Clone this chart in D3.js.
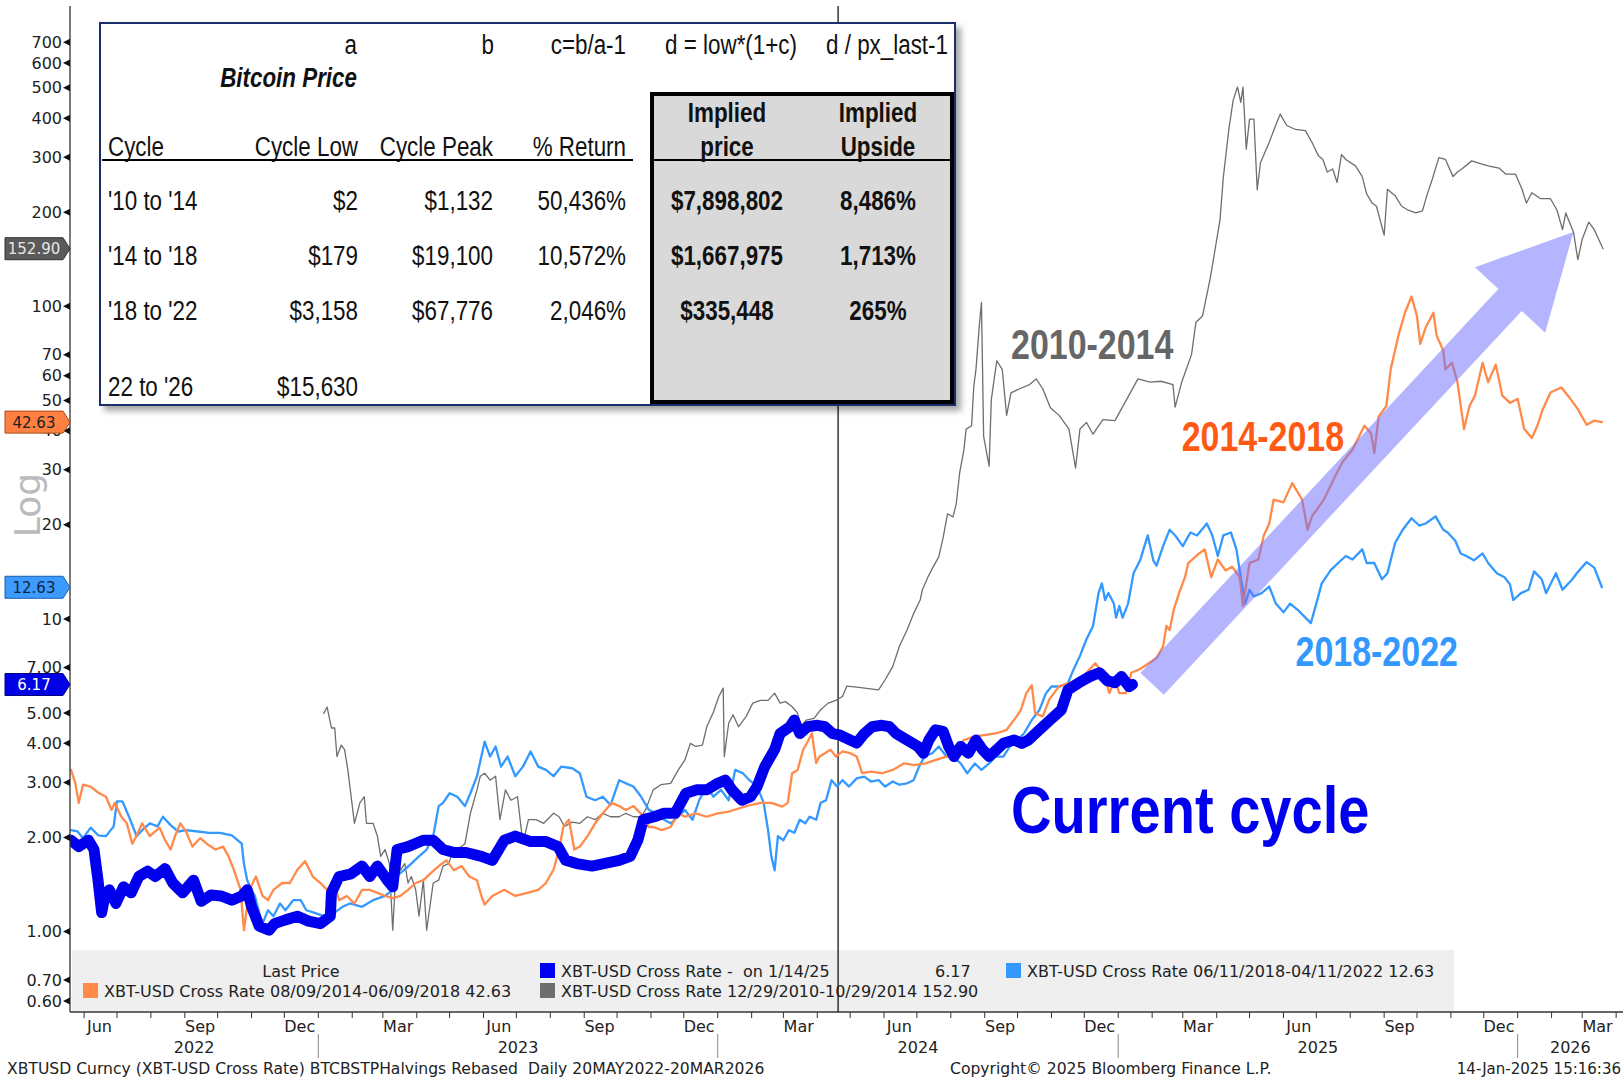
<!DOCTYPE html>
<html>
<head>
<meta charset="utf-8">
<script src="https://cdn.jsdelivr.net/npm/d3@7"></script>
<style>
  body { margin: 0; background: #fff; }
  svg { display: block; }
  .ax { font-family: "DejaVu Sans", Tahoma, Verdana, sans-serif; fill: #222; }
  .tb { font-family: "Liberation Sans", Arial, sans-serif; fill: #111; }
</style>
</head>
<body>
<svg id="chart" width="1623" height="1079"></svg>
<script>
// ---- data (rebased price, halving-aligned) ----
const current = [["2022-05-20",1.96],["2022-05-27",1.87],["2022-06-05",1.96],["2022-06-10",1.83],["2022-06-14",1.43],["2022-06-17",1.15],["2022-06-20",1.30],["2022-06-24",1.36],["2022-06-30",1.23],["2022-07-07",1.39],["2022-07-14",1.33],["2022-07-21",1.50],["2022-07-29",1.56],["2022-08-05",1.50],["2022-08-14",1.59],["2022-08-21",1.43],["2022-08-30",1.33],["2022-09-09",1.46],["2022-09-16",1.25],["2022-09-25",1.31],["2022-10-04",1.30],["2022-10-14",1.26],["2022-10-23",1.30],["2022-10-28",1.36],["2022-11-01",1.20],["2022-11-08",1.04],["2022-11-17",1.01],["2022-11-22",1.06],["2022-12-02",1.09],["2022-12-13",1.12],["2022-12-23",1.08],["2023-01-03",1.06],["2023-01-12",1.12],["2023-01-13",1.33],["2023-01-20",1.50],["2023-01-31",1.53],["2023-02-10",1.62],["2023-02-17",1.50],["2023-02-24",1.62],["2023-03-05",1.46],["2023-03-10",1.39],["2023-03-14",1.83],["2023-03-24",1.87],["2023-04-07",1.96],["2023-04-16",1.96],["2023-04-25",1.83],["2023-05-05",1.79],["2023-05-16",1.79],["2023-05-30",1.74],["2023-06-09",1.69],["2023-06-20",1.96],["2023-06-30",2.02],["2023-07-14",1.94],["2023-07-28",1.94],["2023-08-08",1.87],["2023-08-15",1.69],["2023-08-25",1.65],["2023-09-08",1.62],["2023-09-19",1.65],["2023-10-03",1.69],["2023-10-13",1.74],["2023-10-20",1.96],["2023-10-25",2.28],["2023-11-04",2.33],["2023-11-13",2.39],["2023-11-23",2.39],["2023-12-03",2.77],["2023-12-13",2.84],["2023-12-22",2.84],["2024-01-01",2.98],["2024-01-08",3.05],["2024-01-14",2.84],["2024-01-23",2.63],["2024-01-31",2.70],["2024-02-06",2.91],["2024-02-13",3.37],["2024-02-22",3.82],["2024-02-27",4.30],["2024-03-07",4.52],["2024-03-11",4.75],["2024-03-16",4.30],["2024-03-23",4.52],["2024-04-01",4.57],["2024-04-08",4.52],["2024-04-15",4.30],["2024-04-21",4.26],["2024-05-01",4.10],["2024-05-07",4.01],["2024-05-14",4.30],["2024-05-21",4.52],["2024-05-30",4.57],["2024-06-06",4.52],["2024-06-12",4.30],["2024-06-22",4.10],["2024-07-02",3.91],["2024-07-07",3.72],["2024-07-12",4.10],["2024-07-18",4.42],["2024-07-25",4.37],["2024-07-30",3.91],["2024-08-04",3.63],["2024-08-10",3.91],["2024-08-17",3.72],["2024-08-24",4.10],["2024-08-30",3.82],["2024-09-05",3.63],["2024-09-12",3.82],["2024-09-18",4.00],["2024-09-28",4.10],["2024-10-05",4.00],["2024-10-11",4.10],["2024-10-21",4.42],["2024-10-31",4.76],["2024-11-10",5.12],["2024-11-16",5.93],["2024-11-26",6.25],["2024-12-06",6.54],["2024-12-15",6.73],["2024-12-22",6.35],["2024-12-29",6.25],["2025-01-04",6.54],["2025-01-11",6.07],["2025-01-14",6.17]];

const cycle1014 = [["2023-01-06",4.99],["2023-01-09",5.23],["2023-01-13",4.48],["2023-01-16",4.48],["2023-01-18",3.63],["2023-01-22",3.95],["2023-01-25",3.82],["2023-01-28",3.29],["2023-02-03",2.22],["2023-02-08",2.58],["2023-02-12",2.70],["2023-02-14",2.22],["2023-02-20",2.22],["2023-02-24",2.02],["2023-02-27",1.74],["2023-03-03",1.83],["2023-03-07",1.65],["2023-03-10",1.01],["2023-03-14",1.83],["2023-03-17",1.57],["2023-03-21",1.65],["2023-03-24",1.43],["2023-03-27",1.50],["2023-03-31",1.36],["2023-04-03",1.12],["2023-04-07",1.46],["2023-04-10",1.01],["2023-04-16",1.43],["2023-04-21",1.46],["2023-04-25",1.62],["2023-04-30",1.65],["2023-05-05",1.83],["2023-05-12",1.87],["2023-05-15",1.91],["2023-05-20",2.39],["2023-05-26",2.84],["2023-05-29",3.14],["2023-06-02",3.21],["2023-06-07",3.05],["2023-06-12",3.14],["2023-06-16",2.28],["2023-06-21",2.84],["2023-06-26",2.63],["2023-07-02",2.70],["2023-07-07",1.91],["2023-07-12",2.28],["2023-07-19",2.28],["2023-07-26",2.22],["2023-08-04",2.39],["2023-08-09",2.33],["2023-08-14",2.17],["2023-08-21",2.24],["2023-08-28",2.22],["2023-09-04",2.33],["2023-09-11",2.28],["2023-09-18",2.39],["2023-09-25",2.33],["2023-10-03",2.33],["2023-10-09",2.39],["2023-10-16",2.33],["2023-10-23",2.33],["2023-10-27",2.45],["2023-11-03",2.84],["2023-11-10",2.95],["2023-11-19",2.98],["2023-11-26",3.29],["2023-12-02",3.54],["2023-12-07",4.00],["2023-12-12",3.91],["2023-12-18",3.95],["2023-12-22",4.52],["2023-12-28",5.03],["2024-01-02",5.65],["2024-01-06",6.01],["2024-01-07",3.63],["2024-01-11",4.64],["2024-01-15",4.94],["2024-01-20",4.52],["2024-01-27",4.88],["2024-02-02",5.38],["2024-02-09",5.49],["2024-02-16",5.49],["2024-02-22",5.79],["2024-02-27",5.38],["2024-03-03",5.44],["2024-03-09",5.24],["2024-03-14",5.00],["2024-03-17",4.52],["2024-03-22",4.75],["2024-03-29",4.81],["2024-04-04",5.12],["2024-04-11",5.38],["2024-04-18",5.49],["2024-04-24",5.65],["2024-04-28",6.10],["2024-05-07",6.05],["2024-05-27",5.93],["2024-06-02",6.39],["2024-06-09",7.05],["2024-06-15",8.18],["2024-06-22",9.22],["2024-06-28",10.4],["2024-07-04",11.5],["2024-07-06",12.4],["2024-07-11",13.6],["2024-07-16",14.7],["2024-07-21",15.8],["2024-07-25",18.2],["2024-07-29",21.7],["2024-08-03",21.2],["2024-08-06",23.4],["2024-08-09",29.2],["2024-08-13",34.8],["2024-08-15",40.5],["2024-08-20",41.5],["2024-08-22",55.4],["2024-08-24",62.9],["2024-08-27",86.3],["2024-08-29",103],["2024-08-31",38.4],["2024-09-05",30.8],["2024-09-07",50.2],["2024-09-12",67.0],["2024-09-17",62.9],["2024-09-21",44.8],["2024-09-25",52.9],["2024-10-03",54.5],["2024-10-12",56.2],["2024-10-18",58.6],["2024-10-24",54.5],["2024-10-31",47.4],["2024-11-08",44.8],["2024-11-17",40.5],["2024-11-23",30.4],["2024-11-27",40.5],["2024-12-03",42.5],["2024-12-09",39.0],["2024-12-18",43.4],["2024-12-29",43.1],["2025-01-09",50.6],["2025-01-19",58.6],["2025-01-30",57.2],["2025-02-09",57.6],["2025-02-20",56.2],["2025-02-22",47.6],["2025-02-28",57.2],["2025-03-09",70.2],["2025-03-13",89.0],["2025-03-19",93.1],["2025-03-26",122.6],["2025-03-30",148.4],["2025-04-04",189],["2025-04-07",258],["2025-04-12",366],["2025-04-16",456],["2025-04-20",503],["2025-04-23",449],["2025-04-25",503],["2025-04-28",318],["2025-05-01",397],["2025-05-05",397],["2025-05-08",236],["2025-05-11",288],["2025-05-19",335],["2025-05-26",388],["2025-05-29",412],["2025-06-04",379],["2025-06-12",368],["2025-06-21",365],["2025-06-27",335],["2025-07-03",303],["2025-07-07",295],["2025-07-11",269],["2025-07-16",275],["2025-07-20",249],["2025-07-24",306],["2025-07-28",295],["2025-08-06",281],["2025-08-12",260],["2025-08-16",229],["2025-08-21",214],["2025-08-25",209],["2025-09-01",169],["2025-09-04",237],["2025-09-11",226],["2025-09-17",209],["2025-09-23",203],["2025-09-30",199],["2025-10-06",202],["2025-10-10",226],["2025-10-15",255],["2025-10-21",299],["2025-10-27",295],["2025-11-03",260],["2025-11-07",269],["2025-11-11",275],["2025-11-20",292],["2025-11-28",286],["2025-12-06",281],["2025-12-15",277],["2025-12-21",265],["2025-12-30",265],["2026-01-05",237],["2026-01-09",214],["2026-01-14",231],["2026-01-22",221],["2026-01-31",221],["2026-02-06",203],["2026-02-11",176],["2026-02-14",199],["2026-02-21",173],["2026-02-25",141],["2026-03-01",164],["2026-03-07",186],["2026-03-12",176],["2026-03-16",164],["2026-03-20",152.9]];

const cycle1418 = [["2022-05-20",3.29],["2022-05-24",2.98],["2022-05-27",2.58],["2022-05-31",2.95],["2022-06-07",2.91],["2022-06-14",2.78],["2022-06-21",2.70],["2022-06-26",2.45],["2022-06-29",2.58],["2022-07-05",2.33],["2022-07-10",2.22],["2022-07-15",1.91],["2022-07-19",2.03],["2022-07-24",2.22],["2022-07-31",2.02],["2022-08-09",2.15],["2022-08-14",1.96],["2022-08-19",1.83],["2022-08-23",2.02],["2022-08-28",2.22],["2022-09-02",2.09],["2022-09-08",1.87],["2022-09-15",1.99],["2022-09-21",1.91],["2022-09-29",1.83],["2022-10-06",1.87],["2022-10-11",1.74],["2022-10-16",1.57],["2022-10-22",1.36],["2022-10-25",1.01],["2022-10-30",1.36],["2022-11-05",1.50],["2022-11-11",1.30],["2022-11-16",1.26],["2022-11-21",1.36],["2022-11-29",1.43],["2022-12-06",1.43],["2022-12-13",1.58],["2022-12-20",1.68],["2022-12-27",1.50],["2023-01-03",1.43],["2023-01-09",1.36],["2023-01-15",1.46],["2023-01-20",1.26],["2023-01-27",1.30],["2023-02-03",1.23],["2023-02-10",1.36],["2023-02-17",1.36],["2023-02-24",1.33],["2023-03-03",1.30],["2023-03-10",1.28],["2023-03-17",1.30],["2023-03-24",1.36],["2023-03-31",1.43],["2023-04-07",1.46],["2023-04-14",1.54],["2023-04-21",1.62],["2023-04-28",1.69],["2023-05-05",1.57],["2023-05-12",1.62],["2023-05-19",1.50],["2023-05-26",1.46],["2023-05-30",1.30],["2023-06-02",1.22],["2023-06-09",1.30],["2023-06-20",1.36],["2023-06-30",1.30],["2023-07-11",1.33],["2023-07-21",1.36],["2023-07-28",1.43],["2023-08-04",1.58],["2023-08-09",1.83],["2023-08-13",2.17],["2023-08-18",2.28],["2023-08-23",1.83],["2023-08-28",1.87],["2023-09-04",2.02],["2023-09-11",2.22],["2023-09-18",2.39],["2023-09-26",2.58],["2023-10-03",2.52],["2023-10-09",2.45],["2023-10-16",2.52],["2023-10-23",2.38],["2023-10-30",2.16],["2023-11-03",2.16],["2023-11-11",2.11],["2023-11-19",2.16],["2023-11-26",2.39],["2023-12-02",2.33],["2023-12-12",2.39],["2023-12-22",2.33],["2024-01-01",2.39],["2024-01-11",2.42],["2024-01-21",2.48],["2024-01-31",2.54],["2024-02-09",2.58],["2024-02-19",2.58],["2024-02-29",2.51],["2024-03-05",2.58],["2024-03-09",3.21],["2024-03-14",3.29],["2024-03-19",3.81],["2024-03-24",4.10],["2024-03-27",4.31],["2024-03-31",3.46],["2024-04-03",3.63],["2024-04-08",3.72],["2024-04-13",3.82],["2024-04-18",3.63],["2024-04-24",3.77],["2024-05-01",3.72],["2024-05-07",3.63],["2024-05-12",3.21],["2024-05-20",3.25],["2024-05-30",3.21],["2024-06-09",3.29],["2024-06-19",3.45],["2024-06-29",3.41],["2024-07-09",3.45],["2024-07-19",3.55],["2024-07-28",3.63],["2024-08-07",3.91],["2024-08-13",4.10],["2024-08-23",4.21],["2024-09-02",4.26],["2024-09-12",4.31],["2024-09-21",4.42],["2024-09-30",4.87],["2024-10-04",5.12],["2024-10-09",5.79],["2024-10-14",6.14],["2024-10-17",5.00],["2024-10-24",4.88],["2024-10-30",5.53],["2024-11-08",6.10],["2024-11-18",6.25],["2024-11-30",6.54],["2024-12-11",7.22],["2024-12-18",6.73],["2024-12-24",5.79],["2024-12-29",6.39],["2025-01-02",5.79],["2025-01-08",5.79],["2025-01-13",6.73],["2025-01-21",6.92],["2025-01-29",7.22],["2025-02-05",7.50],["2025-02-11",8.16],["2025-02-14",9.50],["2025-02-17",9.22],["2025-02-21",10.8],["2025-02-26",12.2],["2025-03-03",13.6],["2025-03-06",15.1],["2025-03-16",16.2],["2025-03-21",16.7],["2025-03-27",13.6],["2025-04-02",15.5],["2025-04-09",14.3],["2025-04-15",14.7],["2025-04-22",13.6],["2025-04-25",11.0],["2025-05-01",15.1],["2025-05-09",15.5],["2025-05-14",18.5],["2025-05-19",20.2],["2025-05-23",24.1],["2025-06-01",23.6],["2025-06-09",27.2],["2025-06-18",24.1],["2025-06-23",19.3],["2025-06-27",21.3],["2025-07-08",24.1],["2025-07-18",28.5],["2025-07-25",31.8],["2025-08-03",34.8],["2025-08-14",41.5],["2025-08-20",39.3],["2025-08-23",34.0],["2025-08-27",44.4],["2025-09-03",48.0],["2025-09-07",62.9],["2025-09-14",80.6],["2025-09-20",95.4],["2025-09-26",107.5],["2025-10-01",93.1],["2025-10-04",75.8],["2025-10-09",85.6],["2025-10-16",95.4],["2025-10-19",80.6],["2025-10-25",72.2],["2025-10-27",62.9],["2025-11-02",66.0],["2025-11-07",57.2],["2025-11-13",40.5],["2025-11-18",48.0],["2025-11-23",51.8],["2025-11-30",66.0],["2025-12-05",57.2],["2025-12-12",65.1],["2025-12-18",51.8],["2025-12-25",49.1],["2026-01-01",50.6],["2026-01-07",40.5],["2026-01-14",37.9],["2026-01-19",41.5],["2026-01-24",46.9],["2026-01-31",53.0],["2026-02-10",55.0],["2026-02-16",51.8],["2026-02-25",46.9],["2026-03-05",41.8],["2026-03-12",43.1],["2026-03-19",42.63]];

const cycle1822 = [["2022-05-20",2.11],["2022-05-26",2.09],["2022-05-31",1.99],["2022-06-07",2.15],["2022-06-14",2.03],["2022-06-21",2.02],["2022-06-28",2.17],["2022-07-01",2.61],["2022-07-06",2.61],["2022-07-12",2.33],["2022-07-19",2.02],["2022-07-24",2.11],["2022-07-31",2.22],["2022-08-07",2.17],["2022-08-12",2.33],["2022-08-19",2.19],["2022-08-26",2.09],["2022-09-02",2.11],["2022-09-13",2.09],["2022-09-23",2.07],["2022-10-03",2.07],["2022-10-14",2.03],["2022-10-23",1.91],["2022-10-25",1.65],["2022-10-28",1.46],["2022-11-01",1.36],["2022-11-04",1.30],["2022-11-08",1.15],["2022-11-11",1.06],["2022-11-16",1.17],["2022-11-21",1.12],["2022-11-27",1.23],["2022-12-02",1.17],["2022-12-09",1.26],["2022-12-16",1.26],["2022-12-21",1.17],["2022-12-28",1.15],["2023-01-06",1.12],["2023-01-11",1.09],["2023-01-16",1.15],["2023-01-23",1.20],["2023-01-30",1.23],["2023-02-10",1.20],["2023-02-20",1.26],["2023-03-03",1.30],["2023-03-10",1.36],["2023-03-13",1.50],["2023-03-20",1.57],["2023-03-27",1.65],["2023-04-03",1.74],["2023-04-10",1.83],["2023-04-16",2.02],["2023-04-21",2.52],["2023-04-25",2.58],["2023-05-01",2.77],["2023-05-08",2.70],["2023-05-15",2.52],["2023-05-20",2.77],["2023-05-26",3.14],["2023-06-02",4.05],["2023-06-07",3.63],["2023-06-12",3.91],["2023-06-17",3.37],["2023-06-23",3.63],["2023-06-30",3.14],["2023-07-07",3.37],["2023-07-14",3.77],["2023-07-21",3.37],["2023-07-28",3.29],["2023-08-04",3.14],["2023-08-11",3.37],["2023-08-21",3.33],["2023-08-28",3.21],["2023-09-03",2.70],["2023-09-11",2.63],["2023-09-18",2.70],["2023-09-25",2.54],["2023-10-03",3.05],["2023-10-09",2.98],["2023-10-16",2.91],["2023-10-23",2.70],["2023-10-30",2.45],["2023-11-06",2.39],["2023-11-13",2.28],["2023-11-19",2.22],["2023-11-26",2.33],["2023-12-02",2.45],["2023-12-09",2.28],["2023-12-15",2.63],["2023-12-22",2.91],["2023-12-28",2.70],["2024-01-04",2.84],["2024-01-11",2.63],["2024-01-17",3.29],["2024-01-24",3.21],["2024-01-30",3.05],["2024-02-06",2.91],["2024-02-12",2.58],["2024-02-16",2.11],["2024-02-19",1.74],["2024-02-22",1.57],["2024-02-25",2.02],["2024-03-01",1.96],["2024-03-06",2.11],["2024-03-11",2.07],["2024-03-16",2.28],["2024-03-21",2.22],["2024-03-25",2.33],["2024-03-31",2.28],["2024-04-04",2.58],["2024-04-09",2.63],["2024-04-14",3.05],["2024-04-19",2.91],["2024-04-24",3.05],["2024-04-30",2.91],["2024-05-07",3.09],["2024-05-14",3.13],["2024-05-20",3.02],["2024-05-27",3.05],["2024-06-02",2.91],["2024-06-09",3.02],["2024-06-15",2.95],["2024-06-22",2.98],["2024-06-28",3.05],["2024-07-03",3.37],["2024-07-08",3.63],["2024-07-15",3.72],["2024-07-21",3.91],["2024-07-28",3.63],["2024-08-03",3.63],["2024-08-10",3.45],["2024-08-16",3.21],["2024-08-23",3.45],["2024-08-29",3.29],["2024-09-05",3.45],["2024-09-11",3.63],["2024-09-18",3.63],["2024-09-24",3.91],["2024-10-01",4.10],["2024-10-07",4.31],["2024-10-14",4.75],["2024-10-21",5.12],["2024-10-27",5.79],["2024-11-01",6.08],["2024-11-09",6.08],["2024-11-16",6.23],["2024-11-21",6.87],["2024-11-27",7.62],["2024-12-03",8.61],["2024-12-09",9.50],["2024-12-14",12.1],["2024-12-17",13.0],["2024-12-20",11.5],["2024-12-23",12.1],["2024-12-28",11.2],["2024-12-30",10.1],["2025-01-02",11.0],["2025-01-05",10.1],["2025-01-10",11.2],["2025-01-15",14.0],["2025-01-21",15.4],["2025-01-28",18.5],["2025-02-02",15.4],["2025-02-05",14.8],["2025-02-11",17.1],["2025-02-17",19.3],["2025-02-22",18.5],["2025-03-01",17.1],["2025-03-08",18.9],["2025-03-14",18.5],["2025-03-23",20.2],["2025-03-28",18.5],["2025-04-02",15.9],["2025-04-07",18.5],["2025-04-14",18.9],["2025-04-19",16.7],["2025-04-22",14.3],["2025-04-27",11.2],["2025-05-01",12.4],["2025-05-05",11.8],["2025-05-12",12.1],["2025-05-19",12.7],["2025-05-25",11.2],["2025-06-01",10.5],["2025-06-07",11.2],["2025-06-14",10.7],["2025-06-21",10.1],["2025-06-26",9.7],["2025-07-01",11.2],["2025-07-06",13.0],["2025-07-14",14.3],["2025-07-21",15.1],["2025-07-28",15.9],["2025-08-03",15.5],["2025-08-12",16.7],["2025-08-16",15.1],["2025-08-23",15.1],["2025-08-30",13.4],["2025-09-04",14.0],["2025-09-11",17.5],["2025-09-18",19.3],["2025-09-26",21.0],["2025-10-03",19.9],["2025-10-09",20.2],["2025-10-18",21.3],["2025-10-25",19.3],["2025-10-29",18.9],["2025-11-05",17.8],["2025-11-10",16.2],["2025-11-15",15.9],["2025-11-22",15.4],["2025-11-30",16.2],["2025-12-05",15.1],["2025-12-13",14.0],["2025-12-20",13.6],["2025-12-25",12.9],["2025-12-28",11.5],["2026-01-04",12.1],["2026-01-11",12.4],["2026-01-16",14.2],["2026-01-23",13.4],["2026-01-27",12.1],["2026-02-05",14.0],["2026-02-11",12.4],["2026-02-20",13.4],["2026-02-24",14.0],["2026-03-05",15.2],["2026-03-12",14.6],["2026-03-19",12.63]];

const yTicks = [0.6, 0.7, 1, 2, 3, 4, 5, 7, 10, 20, 30, 40, 50, 60, 70, 100, 200, 300, 400, 500, 600, 700];
const lastValues = [152.90, 42.63, 12.63, 6.17];
const legendLabels = ["XBT-USD Cross Rate 08/09/2014-06/09/2018 42.63", "XBT-USD Cross Rate -\u00a0 on 1/14/25", "XBT-USD Cross Rate 12/29/2010-10/29/2014 152.90", "XBT-USD Cross Rate 06/11/2018-04/11/2022 12.63"];

const formulaRow = ["a", "b", "c=b/a-1", "d = low*(1+c)", "d / px_last-1"];
const tableHeads = ["Cycle", "Cycle Low", "Cycle Peak", "% Return"];
const cycles = ["'10 to '14", "'14 to '18", "'18 to '22", "22 to '26"];
const cycleLows = ["$2", "$179", "$3,158", "$15,630"];
const cyclePeaks = ["$1,132", "$19,100", "$67,776", ""];
const cycleReturns = ["50,436%", "10,572%", "2,046%", ""];
const impliedPrices = ["$7,898,802", "$1,667,975", "$335,448", ""];
const impliedUpside = ["8,486%", "1,713%", "265%", ""];

// ---- scales ----
const parse = d3.timeParse("%Y-%m-%d");
const x = d3.scaleTime().domain([parse("2022-05-20"), parse("2026-03-20")]).range([71, 1603]);
const y = d3.scaleLog().domain([0.553, 955]).range([1012, 0]);
const axisY = 1012, axisX = 70, rightEdge = 1623;

const svg = d3.select("#chart");
const defs = svg.append("defs");
defs.append("clipPath").attr("id", "plot")
  .append("rect").attr("x", axisX).attr("y", 0).attr("width", rightEdge - axisX).attr("height", axisY);

// condensed text helper (narrow face via horizontal scaling)
function ntext(g, t, xx, yy, anchor, size, sx, extra) {
  const el = g.append("text")
    .attr("transform", `translate(${xx},${yy}) scale(${sx},1)`)
    .attr("text-anchor", anchor).attr("dy", "0.35em")
    .style("font-size", size + "px").text(t);
  if (extra) Object.entries(extra).forEach(([k, v]) => el.style(k, v));
  return el;
}

// legend background (behind lines)
svg.append("rect").attr("x", 72).attr("y", 950).attr("width", 1382).attr("height", 61).attr("fill", "#efefef");

// halving marker
const halving = x(parse("2024-04-20"));
svg.append("line").attr("x1", halving).attr("x2", halving).attr("y1", 6).attr("y2", axisY)
  .attr("stroke", "#000").attr("stroke-width", 1.2);

// ---- lines ----
const line = d3.line().x(d => x(parse(d[0]))).y(d => y(d[1]));
const series = [
  { data: cycle1014, color: "#6e6e6e", width: 1.3 },
  { data: cycle1822, color: "#3399ff", width: 2.3 },
  { data: cycle1418, color: "#ff8a4a", width: 2.3 },
  { data: current, color: "#0000ee", width: 11 }
];
const gLines = svg.append("g").attr("clip-path", "url(#plot)");
series.forEach(s => {
  gLines.append("path").datum(s.data).attr("d", line)
    .attr("fill", "none").attr("stroke", s.color).attr("stroke-width", s.width)
    .attr("stroke-linejoin", "round").attr("stroke-linecap", "round");
});

// ---- arrow (data anchored) ----
const p0 = [x(parse("2025-02-01")), y(6.2)];
const p1 = [x(parse("2026-02-21")), y(173)];
const len = Math.hypot(p1[0] - p0[0], p1[1] - p0[1]);
const u = [(p1[0] - p0[0]) / len, (p1[1] - p0[1]) / len];
const n = [-u[1], u[0]];
const sh = 16, hh = 48, hl = 93;
const b = [p1[0] - u[0] * hl, p1[1] - u[1] * hl];
const pt = (p, k) => [p[0] + n[0] * k, p[1] + n[1] * k];
svg.append("polygon")
  .attr("points", [pt(p0, sh), pt(b, sh), pt(b, hh), p1, pt(b, -hh), pt(b, -sh), pt(p0, -sh)].map(p => p.join(",")).join(" "))
  .attr("fill", "#6b6bff").attr("opacity", 0.5);

// ---- annotations ----
const ann = svg.append("g").attr("class", "tb").style("font-weight", "bold");
ntext(ann, "2010-2014", x(parse("2024-09-25")), y(76), "start", 43, 0.79).style("fill", "#666");
ntext(ann, "2014-2018", x(parse("2025-02-28")), y(38.4), "start", 43, 0.79).style("fill", "#ff5a14");
ntext(ann, "2018-2022", x(parse("2025-06-12")), y(7.9), "start", 43, 0.79).style("fill", "#3399ff");
ntext(ann, "Current cycle", x(parse("2024-09-25")), y(2.45), "start", 66, 0.85).style("fill", "#0000ee");

// ---- y axis ----
svg.append("line").attr("x1", axisX).attr("x2", axisX).attr("y1", 6).attr("y2", axisY).attr("stroke", "#333").attr("stroke-width", 1.3);
const gy = svg.append("g").attr("class", "ax").style("font-size", "16px");
yTicks.forEach(v => {
  const yy = y(v);
  gy.append("polygon").attr("points", `${axisX - 7},${yy} ${axisX},${yy - 3.5} ${axisX},${yy + 3.5}`).attr("fill", "#111");
  gy.append("text").attr("x", axisX - 8).attr("y", yy).attr("dy", "0.35em").attr("text-anchor", "end")
    .text(v >= 10 ? String(v) : v.toFixed(2));
});
svg.append("text").attr("class", "ax").attr("transform", "translate(40,505) rotate(-90)")
  .attr("text-anchor", "middle").style("font-size", "36px").style("fill", "#bbb").text("Log");

// last value tags
const tagStyle = [
  { fill: "#5a5a5a", stroke: "#333", text: "#e6e6e6" },
  { fill: "#ff8040", stroke: "#a84a18", text: "#222" },
  { fill: "#3d9bff", stroke: "#1a5fa8", text: "#10243a" },
  { fill: "#0000e6", stroke: "#00007a", text: "#fff" }
];
lastValues.forEach((v, i) => {
  const yy = y(v), st = tagStyle[i];
  svg.append("polygon").attr("points", `5,${yy - 11} 63,${yy - 11} 70,${yy} 63,${yy + 11} 5,${yy + 11}`)
    .attr("fill", st.fill).attr("stroke", st.stroke).attr("stroke-width", 1);
  svg.append("text").attr("class", "ax").attr("x", 34).attr("y", yy).attr("dy", "0.36em").attr("text-anchor", "middle")
    .style("font-size", "15px").style("fill", st.text).text(v.toFixed(2));
});

// ---- x axis ----
svg.append("line").attr("x1", axisX).attr("x2", rightEdge).attr("y1", axisY).attr("y2", axisY).attr("stroke", "#333").attr("stroke-width", 1.3);
const gx = svg.append("g").attr("class", "ax").style("font-size", "16px");
const months = d3.timeMonth.range(parse("2022-06-01"), parse("2026-05-01"));
months.forEach(m => {
  const xx = x(m);
  if (xx > rightEdge) return;
  gx.append("line").attr("x1", xx).attr("x2", xx).attr("y1", axisY).attr("y2", axisY + 6).attr("stroke", "#333");
  if (m.getMonth() === 0) {
    gx.append("line").attr("x1", xx).attr("x2", xx).attr("y1", axisY + 22).attr("y2", axisY + 46).attr("stroke", "#888");
  }
  if ([2, 5, 8, 11].includes(m.getMonth())) {
    const mid = x(d3.timeDay.offset(m, 14));
    if (mid < rightEdge - 8) {
      gx.append("text").attr("x", mid).attr("y", axisY + 20).attr("text-anchor", "middle").text(d3.timeFormat("%b")(m));
    }
  }
});
[2022, 2023, 2024, 2025, 2026].forEach(yr => {
  const a = Math.max(x(new Date(yr, 0, 1)), axisX);
  const bnd = Math.min(x(new Date(yr + 1, 0, 1)), rightEdge);
  gx.append("text").attr("x", (a + bnd) / 2).attr("y", axisY + 41).attr("text-anchor", "middle").text(yr);
});

// ---- legend ----
const gl = svg.append("g").attr("class", "ax").style("font-size", "16px");
gl.append("text").attr("x", 301).attr("y", 977).attr("text-anchor", "middle").text("Last Price");
const legendPos = [[83, 997, "#ff8a4a"], [540, 977, "#0000ee"], [540, 997, "#6e6e6e"], [1006, 977, "#3399ff"]];
legendLabels.forEach((t, i) => {
  const p = legendPos[i];
  gl.append("rect").attr("x", p[0]).attr("y", p[1] - 14).attr("width", 15).attr("height", 15).attr("fill", p[2]);
  gl.append("text").attr("x", p[0] + 21).attr("y", p[1]).text(t);
});
gl.append("text").attr("x", 935).attr("y", 977).text(lastValues[3].toFixed(2));

// ---- footer ----
const gf = svg.append("g").attr("class", "ax").style("font-size", "15.6px");
gf.append("text").attr("x", 7).attr("y", 1074).text("XBTUSD Curncy (XBT-USD Cross Rate) BTCBSTPHalvings Rebased\u00a0 Daily 20MAY2022-20MAR2026");
gf.append("text").attr("x", 950).attr("y", 1074).text("Copyright\u00a9 2025 Bloomberg Finance L.P.");
gf.append("text").attr("x", 1621).attr("y", 1074).attr("text-anchor", "end").style("font-size", "15px").text("14-Jan-2025 15:16:36");

// ---- table ----
const f = defs.append("filter").attr("id", "shadow").attr("x", "-5%").attr("y", "-5%").attr("width", "115%").attr("height", "115%");
f.append("feDropShadow").attr("dx", 5).attr("dy", 5).attr("stdDeviation", 3).attr("flood-color", "#000").attr("flood-opacity", 0.35);

const gt = svg.append("g").attr("class", "tb");
gt.append("rect").attr("x", 100).attr("y", 23).attr("width", 855).attr("height", 382)
  .attr("fill", "#fff").attr("stroke", "#1c2f6b").attr("stroke-width", 2).attr("filter", "url(#shadow)");
gt.append("rect").attr("x", 652).attr("y", 94).attr("width", 300).attr("height", 308)
  .attr("fill", "#d9d9d9").attr("stroke", "#000").attr("stroke-width", 4);

const fs = 28, sx = 0.8;
const formulaX = [357, 494, 626, 797, 948];
formulaRow.forEach((t, i) => ntext(gt, t, formulaX[i], 44, "end", fs, sx));
ntext(gt, "Bitcoin Price", 357, 77, "end", fs, sx, { "font-weight": "bold", "font-style": "italic" });

const headX = [108, 358, 493, 626];
tableHeads.forEach((t, i) => ntext(gt, t, headX[i], 146, i === 0 ? "start" : "end", fs, sx));
gt.append("line").attr("x1", 102).attr("x2", 633).attr("y1", 160).attr("y2", 160).attr("stroke", "#000").attr("stroke-width", 2);
gt.append("line").attr("x1", 652).attr("x2", 952).attr("y1", 160).attr("y2", 160).attr("stroke", "#000").attr("stroke-width", 2);
[["Implied", "price", 727], ["Implied", "Upside", 878]].forEach(h => {
  ntext(gt, h[0], h[2], 112, "middle", fs, sx, { "font-weight": "bold" });
  ntext(gt, h[1], h[2], 146, "middle", fs, sx, { "font-weight": "bold" });
});

const rowY = [200, 255, 310, 386];
cycles.forEach((c, i) => {
  const yy = rowY[i];
  ntext(gt, c, 108, yy, "start", fs, sx);
  ntext(gt, cycleLows[i], 358, yy, "end", fs, sx);
  ntext(gt, cyclePeaks[i], 493, yy, "end", fs, sx);
  ntext(gt, cycleReturns[i], 626, yy, "end", fs, sx);
  ntext(gt, impliedPrices[i], 727, yy, "middle", fs, sx, { "font-weight": "bold" });
  ntext(gt, impliedUpside[i], 878, yy, "middle", fs, sx, { "font-weight": "bold" });
});
</script>
</body>
</html>
